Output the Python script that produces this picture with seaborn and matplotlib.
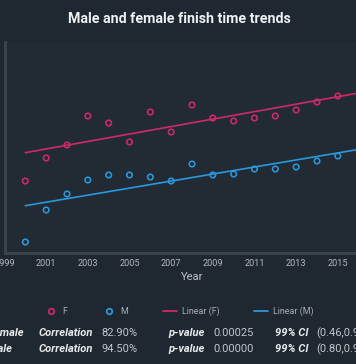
import numpy as np
import pandas as pd
import matplotlib
matplotlib.use("Agg")
import matplotlib.pyplot as plt
import seaborn as sns
from matplotlib.lines import Line2D

# ---------------- data ----------------
years = list(range(2000, 2016))
female = [7.2, 9.5, 10.8, 13.7, 13.0, 11.1, 14.1, 12.1, 14.8, 13.5, 13.2, 13.5, 13.7, 14.3, 15.1, 15.7]
male = [1.1, 4.3, 5.9, 7.3, 7.8, 7.8, 7.6, 7.2, 8.9, 7.8, 7.9, 8.4, 8.4, 8.6, 9.2, 9.7]
xtick_years = list(range(1999, 2018, 2))

stat_groups = ["Female", "Male"]
stat_corr = ["82.90%", "94.50%"]
stat_pval = ["0.00025", "0.00000"]
stat_ci = ["(0.46,0.94)", "(0.80,0.98)"]

title = "Male and female finish time trends"
legend_labels = ["F", "M", "Linear (F)", "Linear (M)"]

# ---------------- style ----------------
sns.set_theme(style="dark")
plt.rcParams["font.family"] = ["Roboto", "DejaVu Sans"]

FIG_BG = "#1f2730"
AX_BG = "#222a33"
SPINE = "#3a434c"
PINK = "#cf2a67"
BLUE = "#2a98dc"
TICK_C = "#b3b8bd"

W, H = 356, 364
fig = plt.figure(figsize=(W / 100, H / 100), dpi=100, facecolor=FIG_BG)

def fx(px):
    return px / W

def fy(py):
    return 1 - py / H

ax_left, ax_right, ax_top, ax_bottom = 4.5, 379.5, 42, 253
ax = fig.add_axes([fx(ax_left), fy(ax_bottom), (ax_right - ax_left) / W, (ax_bottom - ax_top) / H])
ax.set_facecolor(AX_BG)

df = pd.DataFrame({"Year": years + years,
                   "Time": female + male,
                   "Sex": ["F"] * len(years) + ["M"] * len(years)})

sns.scatterplot(data=df, x="Year", y="Time", hue="Sex", palette={"F": PINK, "M": BLUE},
                s=16, linewidth=1.15, legend=False, ax=ax, zorder=3)
# hollow markers: move hue colours to the edges
for coll in ax.collections:
    fc = coll.get_facecolors()
    coll.set_edgecolors(fc)
    coll.set_facecolors("none")

fit_x = np.array([2000, 2017])
for vals, col in [(female, PINK), (male, BLUE)]:
    k, b = np.polyfit(years, vals, 1)
    sns.lineplot(x=fit_x, y=k * fit_x + b, color=col, linewidth=1.2, ax=ax, zorder=2)

ax.set_xlim(1999, 2017)
ax.set_ylim(0, 21.1)
ax.set_xticks(xtick_years)
ax.set_xticklabels([str(y) for y in xtick_years], color=TICK_C, fontsize=6.6)
ax.tick_params(axis="x", length=0, pad=4.0)
ax.set_yticks([])
ax.set_ylabel("")
ax.set_xlabel("Year", color="#c0c4c8", fontsize=8, labelpad=3)
ax.grid(False)
for s in ["top", "right"]:
    ax.spines[s].set_visible(False)
for s in ["left", "bottom"]:
    ax.spines[s].set_visible(True)
    ax.spines[s].set_color(SPINE)
    ax.spines[s].set_linewidth(2.2)

fig.text(fx(179), fy(19), title, ha="center", va="center", color="#eef0f2",
         fontsize=10.3, fontweight="bold")

# legend
handles = [
    Line2D([], [], linestyle="none", marker="o", markersize=4.0, markerfacecolor="none",
           markeredgecolor=PINK, markeredgewidth=1.3),
    Line2D([], [], linestyle="none", marker="o", markersize=4.0, markerfacecolor="none",
           markeredgecolor=BLUE, markeredgewidth=1.3),
    Line2D([], [], color=PINK, linewidth=1.3),
    Line2D([], [], color=BLUE, linewidth=1.3),
]
leg = fig.legend(handles, legend_labels, loc="center", bbox_to_anchor=(fx(178.5), fy(311)),
                 ncol=4, frameon=False, fontsize=6.4, handlelength=1.6, handletextpad=0.5,
                 columnspacing=3.9, labelcolor="#a9afb5")

# stats table
rows_y = [333.5, 349.5]
for i, yy in enumerate(rows_y):
    y = fy(yy)
    fig.text(fx(-11), y, stat_groups[i], ha="left", va="center", color="#e8eaec",
             fontsize=8, fontweight="bold", style="italic")
    fig.text(fx(39), y, "Correlation", ha="left", va="center", color="#e8eaec",
             fontsize=8, fontweight="bold", style="italic")
    fig.text(fx(101), y, stat_corr[i], ha="left", va="center", color="#c2c6ca", fontsize=8)
    fig.text(fx(168), y, "p-value", ha="left", va="center", color="#e8eaec",
             fontsize=8, fontweight="bold", style="italic")
    fig.text(fx(213), y, stat_pval[i], ha="left", va="center", color="#c2c6ca", fontsize=8)
    fig.text(fx(275), y, "99% CI", ha="left", va="center", color="#e8eaec",
             fontsize=8, fontweight="bold", style="italic")
    fig.text(fx(316), y, stat_ci[i], ha="left", va="center", color="#c2c6ca", fontsize=8)

fig.savefig("out.png", dpi=100, facecolor=FIG_BG)
